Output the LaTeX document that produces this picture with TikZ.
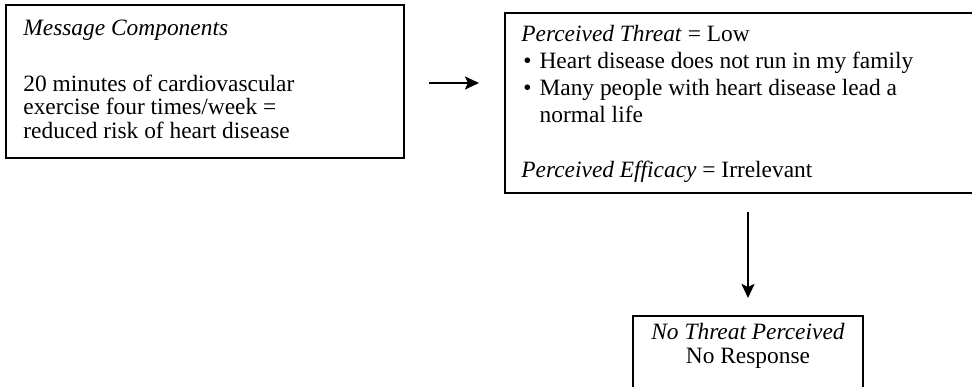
\documentclass[tikz,border=0pt]{standalone}
\usepackage{fontspec}
\setmainfont{Liberation Serif}
\usetikzlibrary{arrows.meta,positioning}

\tikzset{
  frame/.style={draw, line width=1pt, inner sep=0pt, anchor=north west},
  flow/.style={line width=1.1pt, -{Stealth[length=7pt,width=6.5pt,inset=1.5pt]}},
  txt/.style={inner sep=0pt, align=left},
}

\begin{document}
\begin{tikzpicture}[x=0.5pt, y=-0.5pt]
    \useasboundingbox (0,0) rectangle (972,386);
    \clip (0,0) rectangle (972,386);
    \def\fs{11.7}
    % the three frames, sizes in pt
    \node[frame, minimum width=199pt, minimum height=76.5pt] (msg) at (5,4) {};
    \node[frame, minimum width=260pt, minimum height=90pt] (threat) at (504,12) {};
    \node[frame, minimum width=115pt, minimum height=45pt] (resp) at (632,315) {};
    % texts, placed by the baseline of their last line
    \node[txt, anchor=base west, font=\fontsize{\fs}{11.75}\selectfont] (msgtxt) at (23,138)
        {\textit{Message Components}\\[16.25pt]
         20 minutes of cardiovascular\\
         exercise four times/week =\\
         reduced risk of heart disease};
    \node[txt, anchor=base west, font=\fontsize{\fs}{13.5}\selectfont] (threattxt) at (521,177)
        {\textit{Perceived Threat} = Low\\
         \hspace{1pt}\textbullet\hspace{4pt}Heart disease does not run in my family\\
         \hspace{1pt}\textbullet\hspace{4pt}Many people with heart disease lead a\\
         \hphantom{\hspace{1pt}\textbullet\hspace{4pt}}normal life\\[14pt]
         \textit{Perceived Efficacy} = Irrelevant};
    \node[txt, align=center, anchor=base, font=\fontsize{\fs}{11.75}\selectfont] (resptxt)
        at ([yshift=-24pt]resp.north)
        {\textit{No Threat Perceived}\\No Response};
    % connectors
    \draw[flow, shorten <=12pt, shorten >=12.5pt] ([yshift=-0.75pt]msg.east) -- ([yshift=-0.75pt]msg.east -| threat.west);
    \draw[flow, shorten <=9pt, shorten >=8.5pt] (threat.south -| resp.north) -- (resp.north);
\end{tikzpicture}
\end{document}
